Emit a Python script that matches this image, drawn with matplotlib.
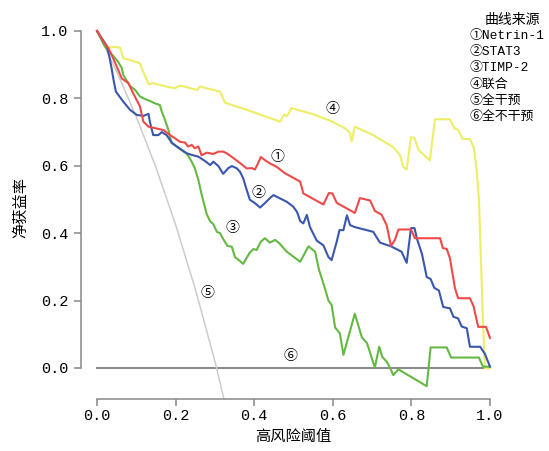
import numpy as np
import matplotlib
matplotlib.use("Agg")
import matplotlib.pyplot as plt

# -----------------
#    数据
# -----------------
netrin_x = [0.0, 0.016, 0.029, 0.041, 0.054, 0.063, 0.080, 0.092, 0.109, 0.118, 0.131, 0.169,
            0.186, 0.198, 0.211, 0.224, 0.232, 0.241, 0.249, 0.258, 0.266, 0.279, 0.296, 0.309,
            0.321, 0.330, 0.347, 0.364, 0.381, 0.394, 0.402, 0.410, 0.417, 0.427, 0.440, 0.457,
            0.478, 0.517, 0.525, 0.576, 0.590, 0.599, 0.610, 0.656, 0.669, 0.695, 0.707, 0.724,
            0.737, 0.748, 0.758, 0.767, 0.799, 0.809, 0.873, 0.880, 0.890, 0.898, 0.911, 0.919,
            0.949, 0.958, 0.970, 0.990, 1.0]
netrin_y = [1.0, 0.968, 0.949, 0.919, 0.884, 0.859, 0.845, 0.815, 0.777, 0.731, 0.716, 0.706,
            0.691, 0.682, 0.671, 0.669, 0.657, 0.662, 0.652, 0.657, 0.631, 0.639, 0.635, 0.642,
            0.642, 0.637, 0.623, 0.608, 0.592, 0.593, 0.589, 0.608, 0.626, 0.617, 0.607, 0.597,
            0.578, 0.553, 0.518, 0.485, 0.519, 0.518, 0.490, 0.460, 0.504, 0.497, 0.466, 0.455,
            0.424, 0.362, 0.380, 0.411, 0.411, 0.385, 0.385, 0.356, 0.353, 0.326, 0.236, 0.207,
            0.207, 0.184, 0.122, 0.122, 0.089]

stat3_x = [0.0, 0.025, 0.032, 0.037, 0.042, 0.048, 0.067, 0.084, 0.101, 0.118, 0.131, 0.135,
           0.143, 0.156, 0.165, 0.177, 0.190, 0.203, 0.216, 0.228, 0.245, 0.258, 0.275, 0.288,
           0.296, 0.309, 0.321, 0.334, 0.343, 0.355, 0.364, 0.372, 0.381, 0.389, 0.402, 0.415,
           0.427, 0.440, 0.449, 0.466, 0.483, 0.499, 0.509, 0.517, 0.525, 0.534, 0.542, 0.559,
           0.576, 0.589, 0.597, 0.610, 0.617, 0.627, 0.636, 0.644, 0.656, 0.703, 0.720, 0.748,
           0.775, 0.788, 0.799, 0.808, 0.814, 0.827, 0.839, 0.849, 0.858, 0.870, 0.881, 0.898,
           0.907, 0.919, 0.928, 0.941, 0.949, 0.975, 0.987, 1.0]
stat3_y = [1.0, 0.955, 0.920, 0.890, 0.855, 0.820, 0.790, 0.766, 0.751, 0.748, 0.754, 0.728,
           0.691, 0.691, 0.700, 0.691, 0.669, 0.657, 0.647, 0.637, 0.631, 0.627, 0.614, 0.602,
           0.612, 0.599, 0.576, 0.593, 0.599, 0.593, 0.582, 0.563, 0.528, 0.499, 0.489, 0.476,
           0.489, 0.504, 0.513, 0.503, 0.493, 0.479, 0.463, 0.436, 0.429, 0.454, 0.418, 0.378,
           0.364, 0.329, 0.320, 0.375, 0.409, 0.409, 0.453, 0.424, 0.418, 0.404, 0.372, 0.361,
           0.345, 0.312, 0.415, 0.415, 0.384, 0.338, 0.270, 0.264, 0.238, 0.230, 0.181, 0.177,
           0.152, 0.147, 0.123, 0.118, 0.063, 0.063, 0.042, 0.004]

timp2_x = [0.0, 0.020, 0.029, 0.041, 0.054, 0.063, 0.067, 0.076, 0.084, 0.097, 0.109, 0.122,
           0.135, 0.148, 0.160, 0.165, 0.173, 0.181, 0.190, 0.203, 0.220, 0.228, 0.241, 0.249,
           0.258, 0.266, 0.279, 0.288, 0.296, 0.305, 0.313, 0.321, 0.332, 0.343, 0.351, 0.361,
           0.372, 0.382, 0.389, 0.398, 0.406, 0.417, 0.427, 0.440, 0.453, 0.463, 0.483, 0.499,
           0.517, 0.538, 0.555, 0.565, 0.576, 0.589, 0.597, 0.606, 0.618, 0.627, 0.656, 0.674,
           0.687, 0.707, 0.718, 0.726, 0.737, 0.746, 0.754, 0.767, 0.839, 0.849, 0.890, 0.901,
           0.972, 0.982, 1.0]
timp2_y = [1.0, 0.954, 0.942, 0.926, 0.908, 0.890, 0.869, 0.852, 0.837, 0.825, 0.806, 0.798,
           0.792, 0.785, 0.780, 0.760, 0.736, 0.709, 0.667, 0.657, 0.642, 0.637, 0.612, 0.592,
           0.558, 0.516, 0.457, 0.435, 0.427, 0.404, 0.400, 0.383, 0.362, 0.360, 0.329, 0.320,
           0.309, 0.329, 0.343, 0.353, 0.350, 0.375, 0.385, 0.372, 0.380, 0.371, 0.345, 0.331,
           0.315, 0.361, 0.345, 0.291, 0.251, 0.200, 0.187, 0.120, 0.103, 0.039, 0.161, 0.091,
           0.074, 0.001, 0.063, 0.033, 0.019, 0.0, -0.021, -0.004, -0.054, 0.061, 0.061, 0.031,
           0.031, 0.004, 0.004]

combo_x = [0.0, 0.025, 0.033, 0.046, 0.059, 0.067, 0.092, 0.109, 0.131, 0.143, 0.177, 0.198,
           0.211, 0.232, 0.254, 0.262, 0.313, 0.326, 0.381, 0.466, 0.476, 0.484, 0.495, 0.547,
           0.593, 0.631, 0.644, 0.648, 0.656, 0.703, 0.754, 0.771, 0.779, 0.788, 0.799, 0.808,
           0.818, 0.847, 0.860, 0.898, 0.910, 0.919, 0.930, 0.949, 0.959, 0.966, 0.972, 0.977,
           0.982, 0.987, 1.0]
combo_y = [1.0, 0.956, 0.950, 0.953, 0.950, 0.919, 0.911, 0.904, 0.842, 0.845, 0.835, 0.830,
           0.838, 0.832, 0.825, 0.835, 0.820, 0.787, 0.766, 0.731, 0.751, 0.748, 0.771, 0.754,
           0.734, 0.711, 0.697, 0.672, 0.716, 0.691, 0.655, 0.632, 0.597, 0.589, 0.685, 0.682,
           0.647, 0.616, 0.738, 0.738, 0.710, 0.707, 0.680, 0.679, 0.653, 0.588, 0.499, 0.320,
           0.142, 0.0, 0.0]

all_x = [0.0, 0.05, 0.10, 0.15, 0.20, 0.25, 0.30, 0.323]
all_y = [1.0, 0.88, 0.745, 0.595, 0.425, 0.235, 0.02, -0.092]

none_x = [0.0, 1.0]
none_y = [0.0, 0.0]

tick_vals = [0.0, 0.2, 0.4, 0.6, 0.8, 1.0]
legend_title = "曲线来源"
legend_items = ["①Netrin-1", "②STAT3", "③TIMP-2", "④联合", "⑤全干预", "⑥全不干预"]
marks = ["①", "②", "③", "④", "⑤", "⑥"]
mark_pos = [(0.46, 0.626), (0.412, 0.519), (0.344, 0.415), (0.60, 0.769), (0.282, 0.223), (0.491, 0.036)]

# ----------------
#    绘图
# ----------------
cjk = ['Noto Sans CJK SC', 'DejaVu Sans']
mono = ['Liberation Mono', 'Noto Sans CJK SC', 'DejaVu Sans']
plt.rcParams['font.family'] = cjk

fig = plt.figure(figsize=(5.49, 4.51), dpi=100)
ax = fig.add_axes([81.3 / 549, 1 - 399 / 451, (505.7 - 81.3) / 549, (399 - 16.8) / 451])
ax.set_xlim(-0.04, 1.04)
ax.set_ylim(-0.092, 1.042)

lw = 1.5
ax.plot(none_x, none_y, color='#8c8c8c', lw=lw)
ax.plot(all_x, all_y, color='#cccccc', lw=1.1, clip_on=True)
ax.plot(combo_x, combo_y, color='#eeee66', lw=lw)
ax.plot(timp2_x, timp2_y, color='#66b844', lw=lw)
ax.plot(stat3_x, stat3_y, color='#3a56ad', lw=lw)
ax.plot(netrin_x, netrin_y, color='#ef4a4a', lw=lw)

for m, (mx, my) in zip(marks, mark_pos):
    ax.text(mx, my, m, ha='center', va='center', fontsize=10, family=cjk)

for s in ['top', 'right']:
    ax.spines[s].set_visible(False)
for s in ['left', 'bottom']:
    ax.spines[s].set_color('#888888')
    ax.spines[s].set_linewidth(1.1)
    ax.spines[s].set_bounds(0, 1)

ax.set_xticks(tick_vals)
ax.set_yticks(tick_vals)
ax.set_xticklabels(["%.1f" % v for v in tick_vals], family=mono, fontsize=11)
ax.set_yticklabels(["%.1f" % v for v in tick_vals], family=mono, fontsize=11)
ax.tick_params(direction='out', length=5, width=1.1, color='#888888')
ax.tick_params(axis='x', pad=2)
ax.tick_params(axis='y', pad=4)

ax.set_xlabel("高风险阈值", fontsize=11, labelpad=4)
ax.set_ylabel("净获益率", fontsize=11, labelpad=9)

# 图例 (手动文字, 贴右边)
fig.text(485 / 549, 1 - 20 / 451, legend_title, ha='left', va='center', fontsize=10, family=cjk)
for i, t in enumerate(legend_items):
    fig.text(470 / 549, 1 - (36 + 16.2 * i) / 451, t, ha='left', va='center', fontsize=9.3, family=mono)

fig.savefig("out.png", dpi=100)
